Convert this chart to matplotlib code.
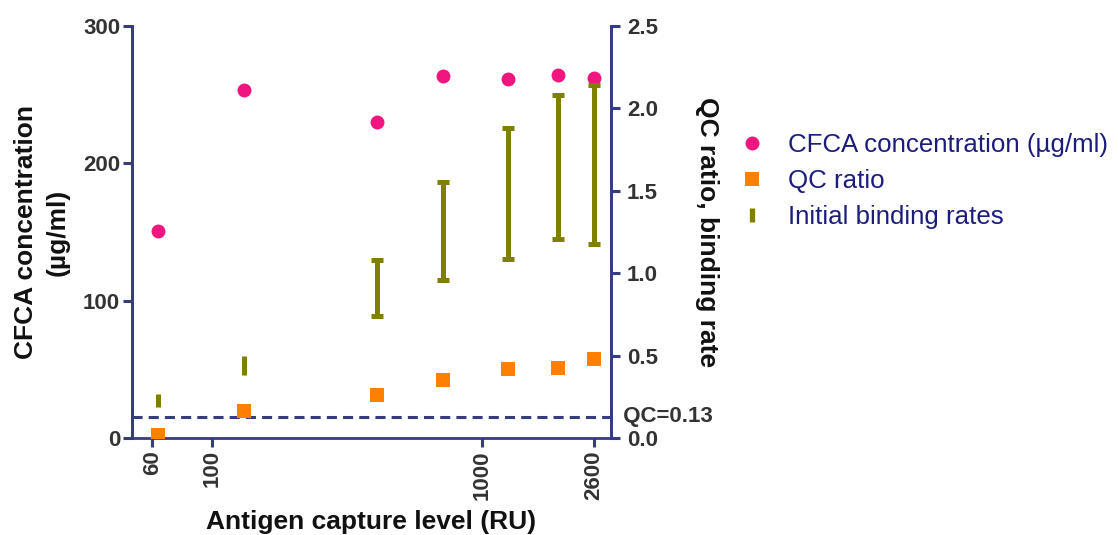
import matplotlib
matplotlib.use("Agg")
import matplotlib.pyplot as plt
from matplotlib.lines import Line2D
from matplotlib.ticker import FixedLocator, NullLocator, FixedFormatter
import numpy as np

### Data ###
capture_level = [63, 131, 408, 718, 1255, 1910, 2600]          # RU
cfca_conc = [150.8, 253.3, 230.2, 263.5, 261.3, 264.2, 261.8]   # ug/ml
qc_ratio = [0.02, 0.167, 0.26, 0.356, 0.422, 0.428, 0.479]
rate_low = [0.19, 0.384, 0.743, 0.959, 1.088, 1.208, 1.178]
rate_high = [0.267, 0.499, 1.081, 1.552, 1.879, 2.081, 2.141]
qc_cutoff = 0.13

xticks = [60, 100, 1000, 2600]
left_ticks = [0, 100, 200, 300]
right_ticks = [0.0, 0.5, 1.0, 1.5, 2.0, 2.5]
### End data ###

plt.rcParams['font.family'] = ['Liberation Sans', 'DejaVu Sans']

navy = '#363c80'
pink = '#f0157f'
orange = '#ff7f00'
olive = '#7f7f00'
tickgrey = '#333333'

W, H = 1118, 535
fig = plt.figure(figsize=(W/100, H/100), dpi=100)

# axes box in pixels: x 132..611, y 25.5..438.3
ax = fig.add_axes([132/W, 1-438.3/H, (611-132)/W, (438.3-25.5)/H])
ax2 = ax.twinx()

ax.set_xscale('log')
ax.set_xlim(50.4, 3015)
ax.set_ylim(0, 300)
ax2.set_ylim(0, 2.5)

# CFCA concentrations on the left axis
ax.plot(capture_level, cfca_conc, 'o', color=pink, markersize=10, markeredgewidth=0, zorder=3)

# binding rate ranges on the right axis: first two are too short for caps
x = np.array(capture_level)
lo = np.array(rate_low)
hi = np.array(rate_high)
ax2.vlines(x[:2], lo[:2], hi[:2], color=olive, linewidth=3.6, zorder=3)
mid = (lo[2:] + hi[2:]) / 2
ax2.errorbar(x[2:], mid, yerr=(hi[2:]-lo[2:])/2, fmt='none', ecolor=olive,
             elinewidth=3.6, capsize=4.6, capthick=3.6, zorder=3)

ax2.plot(capture_level, qc_ratio, 's', color=orange, markersize=10, markeredgewidth=0, zorder=4)

ax2.axhline(qc_cutoff, color=navy, linewidth=2.2, linestyle=(0, (3.3, 2.0)), zorder=2)
ax2.text(1.0, qc_cutoff, '  QC=0.13', transform=ax2.get_yaxis_transform(),
         ha='left', va='center', fontsize=16, fontweight='bold', color=tickgrey)

# axes styling
for a in (ax, ax2):
    a.spines['top'].set_visible(False)
    for s in ('left', 'right', 'bottom'):
        a.spines[s].set_color(navy)
        a.spines[s].set_linewidth(2.0)
    a.tick_params(direction='out', length=6.5, width=2.2, color=navy,
                  labelsize=16, labelcolor=tickgrey)
ax2.spines['bottom'].set_visible(False)
ax.patch.set_visible(False)

ax.xaxis.set_major_locator(FixedLocator(xticks))
ax.xaxis.set_major_formatter(FixedFormatter([str(t) for t in xticks]))
ax.xaxis.set_minor_locator(NullLocator())
ax.tick_params(axis='x', pad=2, labelrotation=90)
ax.tick_params(axis='y', pad=2)
ax2.tick_params(axis='y', pad=5)
for lbl in ax.get_xticklabels() + ax.get_yticklabels() + ax2.get_yticklabels():
    lbl.set_fontweight('bold')

ax.set_yticks(left_ticks)
ax2.set_yticks(right_ticks)
ax2.set_yticklabels(['%.1f' % t for t in right_ticks], fontweight='bold')

ax.set_xlabel('Antigen capture level (RU)', fontsize=19, fontweight='bold', color='#111111')
ax.xaxis.set_label_coords(0.5, -(522-438.3)/412.8)
ax.xaxis.label.set_va('center')

ax.set_ylabel('CFCA concentration\n(µg/ml)', fontsize=19, fontweight='bold', color='#111111',
              linespacing=1.4)
ax.yaxis.set_label_coords((42-132)/479, 0.5)
ax.yaxis.label.set_va('center')

ax2.set_ylabel('QC ratio, binding rate', fontsize=19, fontweight='bold', color='#111111',
               rotation=270)
ax2.yaxis.set_label_coords((707-132)/479, 0.5)
ax2.yaxis.label.set_va('center')

handles = [
    Line2D([], [], linestyle='none', marker='o', color=pink, markersize=10, markeredgewidth=0),
    Line2D([], [], linestyle='none', marker='s', color=orange, markersize=10, markeredgewidth=0),
    Line2D([], [], linestyle='none', marker='|', color=olive, markersize=9.4, markeredgewidth=3.8),
]
labels = ['CFCA concentration (µg/ml)', 'QC ratio', 'Initial binding rates']
leg = fig.legend(handles, labels, loc='upper left', bbox_to_anchor=(734/W, 1-133/H),
                 frameon=False, fontsize=18.6, handlelength=1.4, handletextpad=0.7,
                 labelspacing=0.47, borderaxespad=0, borderpad=0)
for t in leg.get_texts():
    t.set_color('#1c1c7c')

fig.savefig('out.png', dpi=100)
